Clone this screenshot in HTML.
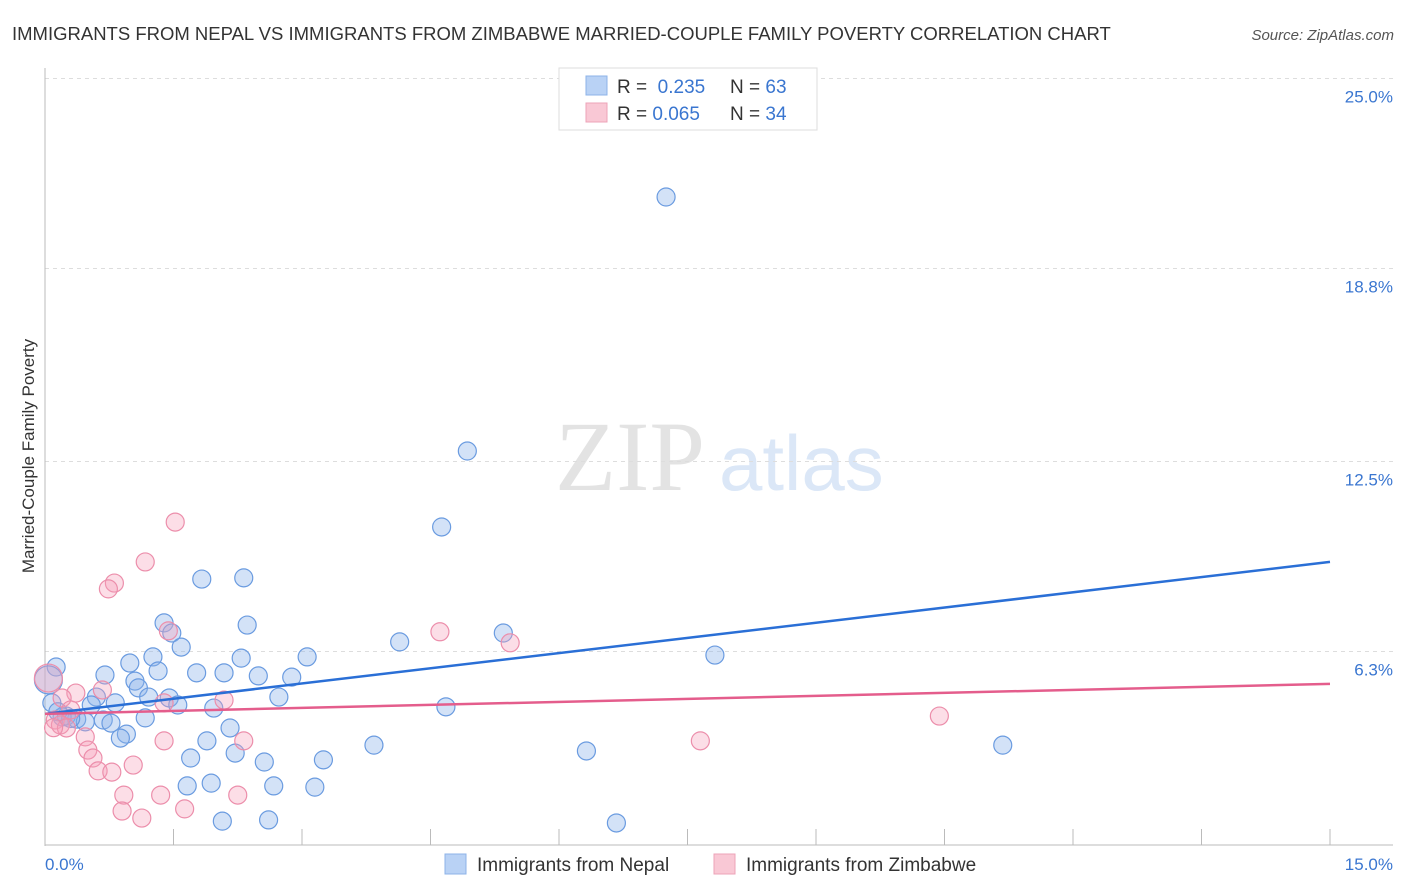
<!DOCTYPE html>
<html><head><meta charset="utf-8"><style>
body{margin:0;background:#fff;font-family:"Liberation Sans",sans-serif;}
svg{display:block}
</style></head><body>
<svg id="chart" width="1406" height="892">
<text x="12" y="40" font-size="18.5" fill="#333">IMMIGRANTS FROM NEPAL VS IMMIGRANTS FROM ZIMBABWE MARRIED-COUPLE FAMILY POVERTY CORRELATION CHART</text>
<text x="1394" y="40" font-size="15" fill="#555" font-style="italic" text-anchor="end">Source: ZipAtlas.com</text>
<text x="555" y="490" font-size="100" fill="#e3e3e3" font-family="Liberation Serif,serif">ZIP</text>
<text x="719" y="490" font-size="78" fill="#dbe7f7">atlas</text>
<g id="grid"></g>
<g id="axes"></g>
<g id="pts"></g>
<g id="lines"></g>
<text transform="translate(34,456) rotate(-90)" font-size="17" fill="#333" text-anchor="middle">Married-Couple Family Poverty</text>
<g>
<rect x="559" y="68" width="258" height="62" fill="#fff" stroke="#ddd"/>
<rect x="586" y="76" width="21" height="19" fill="#b9d2f5" stroke="#8db3e8"/>
<text x="617" y="93" font-size="19" fill="#333">R = <tspan fill="#3a76d0">&#160;0.235</tspan><tspan x="730">N = </tspan><tspan fill="#3a76d0">63</tspan></text>
<rect x="586" y="103" width="21" height="19" fill="#f9c8d5" stroke="#eda3b8"/>
<text x="617" y="120" font-size="19" fill="#333">R = <tspan fill="#3a76d0">0.065</tspan><tspan x="730">N = </tspan><tspan fill="#3a76d0">34</tspan></text>
</g>
<g>
<rect x="445" y="854" width="21" height="20" fill="#b9d2f5" stroke="#8db3e8"/>
<text x="477" y="871" font-size="19" fill="#333">Immigrants from Nepal</text>
<rect x="714" y="854" width="21" height="20" fill="#f9c8d5" stroke="#eda3b8"/>
<text x="746" y="871" font-size="19" fill="#333">Immigrants from Zimbabwe</text>
</g>
</svg>
<script>
const yTicks=[6.3,12.5,18.8,25.0];
const yTickLabels=["6.3%","12.5%","18.8%","25.0%"];
const xTickLabels=["0.0%","15.0%"];
const nepalX=[7.25,4.93,4.63,1.83,2.32,1.39,2.36,1.48,1.59,4.14,5.35,7.82,1.26,0.99,2.29,3.06,0.13,0.70,1.32,1.77,2.09,2.49,2.88,1.05,1.09,0.60,1.21,1.45,2.73,0.82,0.54,1.55,1.97,4.68,0.08,0.25,0.37,0.20,1.17,0.47,0.68,0.77,2.16,0.95,0.88,1.89,3.84,11.18,2.22,6.32,1.70,2.56,3.25,1.66,1.94,2.67,3.15,2.07,2.61,6.67,0.04,0.15,0.30];
const nepalY=[21.72,13.43,10.95,9.25,9.29,7.82,7.75,7.49,7.03,7.20,7.49,6.77,6.71,6.51,6.67,6.71,6.38,6.12,6.25,6.19,6.19,6.09,6.05,5.92,5.70,5.40,5.40,5.37,5.40,5.21,5.14,5.14,5.04,5.08,5.21,4.78,4.68,4.75,4.72,4.59,4.65,4.55,4.39,4.19,4.06,3.97,3.83,3.83,3.57,3.64,3.41,3.28,3.35,2.50,2.59,2.50,2.46,1.35,1.39,1.29,5.96,4.92,4.70];
const zimX=[1.52,1.17,0.81,0.74,1.44,4.61,5.43,0.36,0.67,0.20,1.39,2.09,0.30,10.44,0.12,0.18,0.25,0.47,1.39,2.32,7.65,0.50,0.56,1.03,0.62,0.78,0.92,1.35,2.25,0.90,1.63,1.13,0.04,0.10];
const zimY=[11.11,9.81,9.12,8.93,7.56,7.53,7.17,5.53,5.63,5.37,5.21,5.30,4.98,4.78,4.65,4.49,4.39,4.10,3.97,3.97,3.97,3.67,3.41,3.18,2.99,2.95,2.20,2.20,2.20,1.68,1.75,1.45,6.02,4.40];
const nepalTrend=[4.85,9.81];
const zimTrend=[4.85,5.83];
const X0=45,X1=1330;
function xs(v){return X0+(X1-X0)*v/15;}
function ys(v){return 862.5-v*30.64;}
const NS="http://www.w3.org/2000/svg";
function mk(t,a,p){const e=document.createElementNS(NS,t);for(const k in a)e.setAttribute(k,a[k]);p.appendChild(e);return e;}
const grid=document.getElementById('grid'),axes=document.getElementById('axes'),pts=document.getElementById('pts'),lines=document.getElementById('lines');
yTicks.forEach((t,i)=>{
 const g=mk('line',{x1:45,x2:1393,y1:ys(t)-18,y2:ys(t)-18,stroke:'#ddd','stroke-dasharray':'4,4'},grid);
 
 
 const l=mk('text',{x:1393,y:ys(t)+6,'font-size':17,fill:'#3a76d0','text-anchor':'end'},axes);
 l.textContent=yTickLabels[i];
 
 
});
const ya=mk('line',{x1:45,x2:45,y1:68,y2:846,stroke:'#bbb'},axes);


const xa=mk('line',{x1:45,x2:1393,y1:845,y2:845,stroke:'#bbb'},axes);


for(let i=1;i<=10;i++){
 const tk=mk('line',{x1:xs(i*1.5),x2:xs(i*1.5),y1:829,y2:845,stroke:'#bbb'},axes);
 
 
}
[[0,'start',45],[15,'end',1393]].forEach((d,i)=>{
 const l=mk('text',{x:d[2],y:870,'font-size':17,fill:'#3a76d0','text-anchor':d[1]},axes);
 l.textContent=xTickLabels[i];
 
 
});
function draw(X,Y,fill,stroke,name,bigIdx){
 X.forEach((x,i)=>{
  const c=mk('circle',{cx:xs(x),cy:ys(Y[i]),r:i===bigIdx?14:9,fill:fill,stroke:stroke,'stroke-width':1.2},pts);
  
  
 });
}
draw(nepalX,nepalY,'rgba(140,180,235,0.38)','#6a9be0','nepal-point',60);
draw(zimX,zimY,'rgba(245,160,185,0.35)','#ec8eab','zimbabwe-point',32);
const bl=mk('line',{x1:xs(0),y1:ys(nepalTrend[0]),x2:xs(15),y2:ys(nepalTrend[1]),stroke:'#2a6fd6','stroke-width':2.5},lines);


const pl=mk('line',{x1:xs(0),y1:ys(zimTrend[0]),x2:xs(15),y2:ys(zimTrend[1]),stroke:'#e45d8c','stroke-width':2.5},lines);


</script>
</body></html>
